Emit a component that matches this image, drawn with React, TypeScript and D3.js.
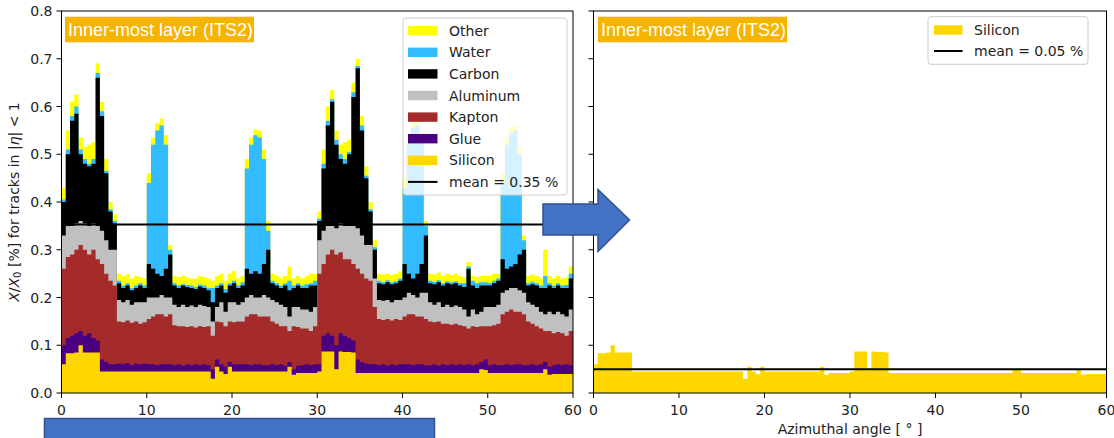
import React from 'react';
import * as d3 from 'd3';

// ---------- data (0.5 degree bins, 0..60 deg) ----------
const binWidth = 0.5;
const materials = ['Silicon', 'Glue', 'Kapton', 'Aluminum', 'Carbon', 'Water', 'Other'];
const legendOrder = ['Other', 'Water', 'Carbon', 'Aluminum', 'Kapton', 'Glue', 'Silicon'];
const materialColors: Record<string, string> = {
  Other: '#ffff00',
  Water: '#33bbff',
  Carbon: '#000000',
  Aluminum: '#c0c0c0',
  Kapton: '#a52a2a',
  Glue: '#4b0082',
  Silicon: '#ffd700',
};

const silicon = [
  .06, .083, .083, .085, .10, .085, .085, .085, .085, .045,
  .045, .045, .045, .045, .045, .045, .045, .045, .045, .045,
  .045, .045, .045, .045, .045, .045, .045, .045, .045, .045,
  .045, .045, .045, .045, .045, .03, .055, .045, .04, .055,
  .045, .045, .045, .045, .045, .045, .045, .045, .045, .045,
  .045, .045, .045, .055, .038, .042, .042, .042, .042, .042,
  .045, .087, .087, .087, .05, .087, .086, .086, .085, .042,
  .042, .042, .042, .042, .042, .042, .042, .042, .042, .042,
  .042, .042, .042, .042, .042, .042, .042, .042, .042, .042,
  .042, .042, .042, .042, .042, .042, .042, .042, .05, .048,
  .042, .042, .042, .042, .042, .042, .042, .042, .042, .042,
  .042, .042, .042, .05, .038, .04, .04, .04, .04, .04,
];
const glue = [
  .04, .032, .037, .04, .03, .035, .04, .03, .025, .025,
  .02, .015, .015, .017, .015, .018, .013, .017, .015, .016,
  .015, .015, .013, .015, .015, .015, .013, .015, .012, .015,
  .013, .015, .013, .015, .013, .02, .015, .015, .015, .01,
  .015, .015, .015, .015, .013, .015, .015, .013, .013, .015,
  .013, .015, .012, .01, .012, .015, .016, .018, .016, .018,
  .015, .033, .038, .033, .05, .038, .034, .029, .025, .028,
  .023, .02, .018, .018, .016, .018, .015, .018, .016, .018,
  .018, .018, .016, .018, .018, .016, .016, .018, .015, .018,
  .016, .018, .016, .018, .016, .018, .016, .018, .015, .022,
  .016, .018, .016, .016, .018, .016, .018, .018, .016, .016,
  .018, .016, .018, .015, .017, .018, .02, .018, .02, .018,
];
const kapton = [
  .16, .17, .17, .175, .18, .18, .165, .185, .17, .20,
  .185, .175, .165, .088, .088, .089, .089, .088, .085, .087,
  .095, .10, .107, .105, .10, .105, .084, .08, .083, .078,
  .082, .077, .082, .078, .082, .07, .08, .088, .085, .085,
  .088, .09, .09, .10, .107, .105, .10, .102, .102, .09,
  .087, .08, .083, .065, .09, .081, .077, .075, .072, .08,
  .19, .15, .165, .18, .19, .17, .16, .165, .16, .19,
  .185, .178, .175, .12, .097, .093, .098, .092, .097, .093,
  .10, .105, .107, .10, .10, .097, .092, .088, .093, .085,
  .087, .083, .087, .082, .082, .075, .082, .078, .075, .07,
  .082, .082, .087, .107, .11, .117, .11, .11, .107, .092,
  .085, .082, .075, .065, .075, .067, .068, .067, .06, .072,
];
const aluminum = [
  .07, .065, .06, .055, .05, .055, .06, .055, .07, .07,
  .07, .065, .075, .045, .042, .043, .038, .04, .045, .042,
  .045, .04, .035, .04, .04, .035, .043, .04, .045, .042,
  .043, .043, .045, .044, .04, .03, .03, .042, .03, .04,
  .042, .035, .04, .04, .04, .035, .04, .045, .04, .045,
  .045, .045, .04, .03, .04, .042, .04, .04, .04, .04,
  .07, .07, .06, .05, .055, .06, .07, .07, .08, .085,
  .08, .07, .075, .06, .04, .04, .04, .038, .04, .042,
  .04, .045, .04, .04, .05, .055, .04, .037, .04, .035,
  .04, .037, .038, .038, .035, .025, .035, .027, .03, .04,
  .04, .038, .04, .045, .045, .045, .05, .045, .045, .04,
  .04, .04, .035, .035, .04, .04, .042, .04, .04, .045,
];
const carbon = [
  .07, .15, .22, .23, .14, .125, .125, .125, .31, .24,
  .14, .08, .055, .035, .03, .03, .03, .03, .035, .03,
  .07, .06, .05, .04, .06, .09, .04, .04, .04, .042,
  .037, .038, .038, .038, .035, .04, .04, .035, .04, .035,
  .04, .035, .035, .06, .045, .055, .05, .065, .10, .035,
  .035, .035, .045, .055, .04, .045, .045, .045, .055, .045,
  .04, .13, .21, .26, .175, .135, .13, .15, .27, .335,
  .22, .14, .07, .06, .035, .035, .037, .038, .035, .04,
  .07, .04, .035, .05, .06, .12, .04, .043, .042, .045,
  .045, .048, .047, .045, .047, .10, .05, .055, .055, .045,
  .045, .05, .05, .07, .045, .045, .05, .075, .09, .035,
  .043, .045, .05, .055, .055, .055, .055, .055, .06, .065,
];
const water = [
  .005, .01, .01, .015, .01, .01, .005, .01, .01, .01,
  .005, .005, .005, .005, .005, .005, .005, .005, .005, .005,
  .17, .26, .30, .315, .26, .01, .005, .005, .003, .004,
  .005, .004, .004, .005, .005, .03, .005, .005, .008, .005,
  .005, .005, .007, .21, .27, .285, .285, .22, .04, .005,
  .005, .005, .005, .02, .005, .005, .005, .008, .005, .01,
  .005, .01, .01, .005, .01, .01, .01, .005, .01, .005,
  .01, .005, .005, .005, .005, .004, .004, .004, .004, .005,
  .16, .27, .315, .31, .26, .02, .005, .005, .004, .005,
  .004, .004, .004, .005, .008, .005, .01, .01, .007, .007,
  .005, .005, .005, .16, .26, .28, .28, .21, .02, .005,
  .005, .005, .005, .025, .005, .005, .005, .005, .006, .01,
];
const other = [
  .025, .04, .03, .025, .025, .025, .04, .035, .02, .02,
  .025, .015, .015, .015, .02, .018, .02, .02, .013, .015,
  .02, .015, .015, .015, .02, .01, .015, .018, .017, .016,
  .015, .018, .018, .018, .02, .015, .02, .02, .017, .02,
  .02, .015, .013, .02, .015, .012, .015, .02, .02, .015,
  .015, .015, .015, .03, .015, .015, .015, .017, .02, .015,
  .015, .03, .03, .02, .02, .02, .035, .025, .02, .015,
  .02, .02, .015, .015, .015, .016, .014, .015, .016, .015,
  .02, .015, .012, .01, .015, .01, .015, .015, .016, .015,
  .016, .015, .016, .015, .013, .01, .01, .013, .013, .013,
  .015, .015, .01, .02, .015, .013, .01, .015, .01, .015,
  .015, .015, .015, .055, .015, .015, .015, .015, .016, .015,
];
const meanTotal = 0.353;
const meanSilicon = 0.05;
const yTicks = [0, 0.1, 0.2, 0.3, 0.4, 0.5, 0.6, 0.7, 0.8];
const xTicks = [0, 10, 20, 30, 40, 50, 60];

const FONT = "'DejaVu Sans', Verdana, sans-serif";
const TITLE_FONT = "'Liberation Sans', Arial, Helvetica, sans-serif";

export default function App() {
  const top = 11, bottom = 393;
  const y = d3.scaleLinear().domain([0, 0.8]).range([bottom, top]);
  const xL = d3.scaleLinear().domain([0, 60]).range([61.5, 573]);
  const xR = d3.scaleLinear().domain([0, 60]).range([593.5, 1106.5]);

  const series: Record<string, number[]> = {
    Silicon: silicon, Glue: glue, Kapton: kapton, Aluminum: aluminum,
    Carbon: carbon, Water: water, Other: other,
  };
  const rows: any[] = silicon.map((_, i) => {
    const r: any = { angle: i * binWidth };
    materials.forEach((m) => (r[m] = series[m][i]));
    return r;
  });
  rows.push({ ...rows[rows.length - 1], angle: 60 });
  const stacked = d3.stack<any>().keys(materials)(rows);

  const areaFor = (x: d3.ScaleLinear<number, number>) =>
    d3.area<any>()
      .x((d) => x(d.data.angle))
      .y0(y(0))
      .y1((d) => y(d[1]))
      .curve(d3.curveStepAfter);

  const leftArea = areaFor(xL);
  const rightArea = areaFor(xR);
  const siliconRows = rows.map((r) => ({ data: r, 1: r.Silicon, 0: 0 }));

  const axisX = (x: d3.ScaleLinear<number, number>, key: string) => (
    <g key={key}>
      {xTicks.map((t) => (
        <g key={t}>
          <line x1={x(t)} x2={x(t)} y1={bottom} y2={bottom + 5} stroke="#000" strokeWidth={1} />
          <text x={x(t)} y={bottom + 22} textAnchor="middle" fontSize={14} fill="#222" fontFamily={FONT}>{t}</text>
        </g>
      ))}
    </g>
  );
  const axisY = (x0: number, labels: boolean, key: string) => (
    <g key={key}>
      {yTicks.map((t) => (
        <g key={t}>
          <line x1={x0 - 5} x2={x0} y1={y(t)} y2={y(t)} stroke="#000" strokeWidth={1} />
          {labels && (
            <text x={x0 - 9} y={y(t) + 5} textAnchor="end" fontSize={14} fill="#222" fontFamily={FONT}>{t.toFixed(1)}</text>
          )}
        </g>
      ))}
    </g>
  );

  const rowH = 21.6;
  return (
    <svg width={1114} height={438} style={{ position: 'absolute', left: 0, top: 0, background: '#fff' }}>
      <rect x={0} y={0} width={1114} height={438} fill="#fff" />
      {/* left plot: stacked histogram, drawn top layer first from baseline */}
      <g>
        {[...stacked].reverse().map((s) => (
          <path key={s.key} d={leftArea(s as any) || ''} fill={materialColors[s.key]} stroke="none" />
        ))}
        <line x1={xL(0)} x2={xL(60)} y1={y(meanTotal)} y2={y(meanTotal)} stroke="#000" strokeWidth={2} />
        <rect x={xL(0)} y={top} width={xL(60) - xL(0)} height={bottom - top} fill="none" stroke="#000" strokeWidth={1} />
        {axisX(xL, 'xl')}
        {axisY(xL(0), true, 'yl')}
      </g>
      {/* right plot: silicon only */}
      <g>
        <path d={rightArea(siliconRows as any) || ''} fill={materialColors.Silicon} />
        <line x1={xR(0)} x2={xR(60)} y1={y(meanSilicon)} y2={y(meanSilicon)} stroke="#000" strokeWidth={2} />
        <rect x={xR(0)} y={top} width={xR(60) - xR(0)} height={bottom - top} fill="none" stroke="#000" strokeWidth={1} />
        {axisX(xR, 'xr')}
        {axisY(xR(0), false, 'yr')}
      </g>
      {/* axis labels */}
      <text transform={`translate(14,${(top + bottom) / 2}) rotate(-90)`} textAnchor="middle" dominantBaseline="central"
        fontSize={14} fill="#222" fontFamily={FONT}>
        <tspan fontStyle="italic">X</tspan>/<tspan fontStyle="italic">X</tspan>
        <tspan fontSize={10} dy={3}>0</tspan>
        <tspan dy={-3}> [%] for tracks in |</tspan><tspan fontStyle="italic">η</tspan>| &lt; 1
      </text>
      <text x={(xR(0) + xR(60)) / 2} y={434} textAnchor="middle" fontSize={14} fill="#222" fontFamily={FONT}>
        Azimuthal angle [ ° ]
      </text>
      {/* title boxes */}
      {[xL(0) + 3.5, xR(0) + 4.5].map((bx, i) => (
        <g key={i}>
          <rect x={bx} y={16.7} width={189} height={25.6} fill="#f5b400" />
          <text x={bx + 3} y={36} fontSize={18} fill="#fff" fontFamily={TITLE_FONT}>Inner-most layer (ITS2)</text>
        </g>
      ))}
      {/* left legend */}
      <g fontFamily={FONT} fontSize={14} fill="#222">
        <rect x={403} y={18} width={164} height={177} rx={3} fill="#fff" fillOpacity={0.8} stroke="#cccccc" strokeWidth={1} />
        {legendOrder.map((m, i) => (
          <g key={m}>
            <rect x={408} y={30.7 + i * rowH - 4.7} width={29.5} height={9.4} fill={materialColors[m]} />
            <text x={449} y={30.7 + i * rowH + 5}>{m}</text>
          </g>
        ))}
        <line x1={408} x2={437.5} y1={30.7 + 7 * rowH} y2={30.7 + 7 * rowH} stroke="#000" strokeWidth={2} />
        <text x={449} y={30.7 + 7 * rowH + 5}>mean = 0.35 %</text>
      </g>
      {/* right legend */}
      <g fontFamily={FONT} fontSize={14} fill="#222">
        <rect x={928} y={16.7} width={160} height={47.6} rx={3} fill="#fff" fillOpacity={0.8} stroke="#cccccc" strokeWidth={1} />
        <rect x={934} y={30 - 4.7} width={28.5} height={9.4} fill={materialColors.Silicon} />
        <text x={974} y={35}>Silicon</text>
        <line x1={934} x2={962.5} y1={51} y2={51} stroke="#000" strokeWidth={2} />
        <text x={974} y={56}>mean = 0.05 %</text>
      </g>
      {/* annotation shapes */}
      <polygon points="543,204 598,204 598,189.5 629.5,220 598,251.5 598,235 543,235"
        fill="#4472c4" stroke="#2f528f" strokeWidth={1.5} />
      <rect x={44.5} y={418.5} width={390} height={30} fill="#4472c4" stroke="#2f528f" strokeWidth={1.5} />
    </svg>
  );
}
